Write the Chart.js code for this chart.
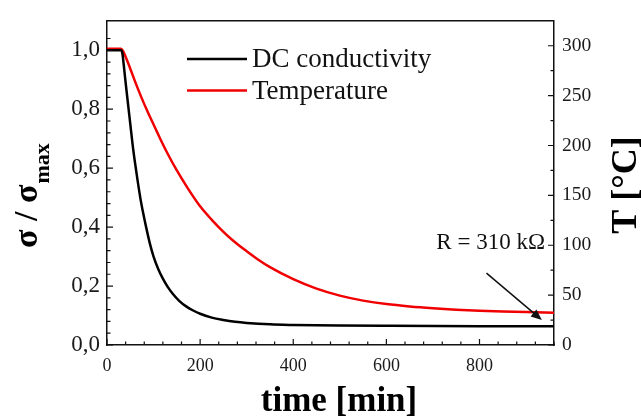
<!DOCTYPE html>
<html>
<head>
<meta charset="utf-8">
<script src="https://cdn.jsdelivr.net/npm/chart.js@4.4.1/dist/chart.umd.min.js"></script>
<style>
  html, body { margin: 0; padding: 0; background: #fff; }
  canvas { display: block; }
</style>
</head>
<body>
<canvas id="chart" width="641" height="417"></canvas>
<script>
// values
const condTime = [0, 20, 30, 33, 36, 40, 45, 50, 55, 60, 66, 72, 78, 84, 92, 100, 110, 120, 130, 142, 155, 170, 185, 200, 225, 250, 275, 300, 350, 400, 500, 600, 800, 960];
const conductivity = [1.0, 1.0, 1.0, 0.99, 0.95, 0.89, 0.82, 0.75, 0.68, 0.62, 0.555, 0.495, 0.445, 0.4, 0.345, 0.3, 0.258, 0.225, 0.198, 0.172, 0.15, 0.131, 0.117, 0.106, 0.093, 0.085, 0.079, 0.075, 0.07, 0.068, 0.066, 0.065, 0.064, 0.064];

const tempTime = [0, 30, 34, 40, 50, 62, 75, 88, 100, 115, 130, 150, 175, 200, 225, 250, 275, 300, 325, 350, 400, 450, 500, 550, 600, 650, 700, 750, 800, 850, 900, 960];
const temperature = [297, 297, 295, 289, 277, 262, 247, 233, 221, 206, 192, 175, 156, 139, 125.5, 113.5, 103, 94, 85.5, 78, 66, 56.5, 49.5, 44.5, 41, 38.6, 36.8, 35.4, 34.4, 33.6, 33, 32.4];

const seriesNames = ['DC conductivity', 'Temperature'];
const noteText = 'R = 310 k\u03A9';
// arrow of the note, in (time, temperature) units
const arrowFrom = [815, 72];
const arrowTo = [934, 25];

const serif = '"Liberation Serif", "DejaVu Serif", serif';
const ink = '#111';

function pts(xs, ys) {
  return xs.map((x, i) => ({ x: x, y: ys[i] }));
}

function majorLabel(step, major) {
  return function (v) {
    const k = Math.round(v / step);
    const m = Math.round(major / step);
    if (k % m !== 0) return '';
    return String(v);
  };
}

const decorations = {
  id: 'decorations',
  afterDraw(chart) {
    const { ctx, chartArea: a, scales } = chart;
    ctx.save();
    ctx.strokeStyle = ink;
    ctx.lineWidth = 1.5;

    // top frame line
    ctx.beginPath();
    ctx.moveTo(a.left, a.top);
    ctx.lineTo(a.right, a.top);
    ctx.stroke();

    // inward tick marks
    ctx.lineWidth = 1.2;
    ctx.beginPath();
    scales.x.ticks.forEach(t => {
      const p = scales.x.getPixelForValue(t.value);
      const len = t.label ? 6 : 3.5;
      ctx.moveTo(p, a.bottom);
      ctx.lineTo(p, a.bottom - len);
    });
    scales.y.ticks.forEach(t => {
      if (t.value > 1.09) return;
      const p = scales.y.getPixelForValue(t.value);
      const len = t.label ? 6 : 3.5;
      ctx.moveTo(a.left, p);
      ctx.lineTo(a.left + len, p);
    });
    scales.y2.ticks.forEach(t => {
      if (t.value > 320) return;
      const p = scales.y2.getPixelForValue(t.value);
      const len = t.label ? 6 : 3.5;
      ctx.moveTo(a.right, p);
      ctx.lineTo(a.right - len, p);
    });
    ctx.stroke();

    // legend
    ctx.textBaseline = 'middle';
    ctx.textAlign = 'left';
    ctx.font = '27px ' + serif;
    chart.data.datasets.forEach((ds, i) => {
      const y = 59 + i * 31.5;
      ctx.strokeStyle = ds.borderColor;
      ctx.lineWidth = 2.5;
      ctx.beginPath();
      ctx.moveTo(187, y);
      ctx.lineTo(247, y);
      ctx.stroke();
      ctx.fillStyle = ink;
      ctx.fillText(ds.label, 252, y + 1);
    });

    // note and arrow
    ctx.font = '23px ' + serif;
    ctx.textAlign = 'right';
    ctx.fillStyle = ink;
    ctx.fillText(noteText, 545, 243);

    const x1 = scales.x.getPixelForValue(arrowFrom[0]);
    const y1 = scales.y2.getPixelForValue(arrowFrom[1]);
    const x2 = scales.x.getPixelForValue(arrowTo[0]);
    const y2 = scales.y2.getPixelForValue(arrowTo[1]);
    const ang = Math.atan2(y2 - y1, x2 - x1);
    ctx.strokeStyle = ink;
    ctx.lineWidth = 1.5;
    ctx.beginPath();
    ctx.moveTo(x1, y1);
    ctx.lineTo(x2 - 6 * Math.cos(ang), y2 - 6 * Math.sin(ang));
    ctx.stroke();
    ctx.beginPath();
    ctx.moveTo(x2, y2);
    ctx.lineTo(x2 - 11 * Math.cos(ang) + 4.5 * Math.sin(ang), y2 - 11 * Math.sin(ang) - 4.5 * Math.cos(ang));
    ctx.lineTo(x2 - 11 * Math.cos(ang) - 4.5 * Math.sin(ang), y2 - 11 * Math.sin(ang) + 4.5 * Math.cos(ang));
    ctx.closePath();
    ctx.fill();

    // axis titles
    ctx.fillStyle = '#000';
    ctx.textAlign = 'center';
    ctx.textBaseline = 'alphabetic';
    ctx.font = 'bold 35px ' + serif;
    ctx.fillText('time [min]', 339, 411);

    ctx.save();
    ctx.translate(636, 185);
    ctx.rotate(-Math.PI / 2);
    ctx.textAlign = 'center';
    ctx.font = 'bold 36px ' + serif;
    ctx.fillText('T [\u00B0C]', 0, 0);
    ctx.restore();

    ctx.save();
    ctx.translate(37, 248);
    ctx.rotate(-Math.PI / 2);
    ctx.textAlign = 'left';
    ctx.font = 'bold 34px ' + serif;
    const main = '\u03C3 / \u03C3';
    ctx.fillText(main, 0, 0);
    const w = ctx.measureText(main).width;
    ctx.font = 'bold 22px ' + serif;
    ctx.fillText('max', w + 1, 12);
    ctx.restore();

    ctx.restore();
  }
};

new Chart(document.getElementById('chart'), {
  type: 'line',
  data: {
    datasets: [
      {
        label: seriesNames[0],
        data: pts(condTime, conductivity),
        yAxisID: 'y',
        borderColor: '#000000',
        borderWidth: 2.5,
        pointRadius: 0,
        cubicInterpolationMode: 'monotone',
        fill: false
      },
      {
        label: seriesNames[1],
        data: pts(tempTime, temperature),
        yAxisID: 'y2',
        borderColor: '#f00000',
        borderWidth: 2.5,
        pointRadius: 0,
        cubicInterpolationMode: 'monotone',
        fill: false
      }
    ]
  },
  options: {
    responsive: false,
    animation: false,
    devicePixelRatio: 1,
    layout: { padding: { top: 16, left: 0, right: 0, bottom: 0 } },
    plugins: { legend: { display: false }, tooltip: { enabled: false } },
    scales: {
      x: {
        type: 'linear',
        min: 0,
        max: 960,
        afterFit(s) { s.height = 72; },
        grid: { display: false, drawTicks: false },
        border: { display: true, color: ink, width: 1.5 },
        ticks: {
          stepSize: 40,
          autoSkip: false,
          maxRotation: 0,
          padding: 10,
          color: '#1a1a1a',
          font: { family: serif, size: 18 },
          callback: majorLabel(40, 200)
        }
      },
      y: {
        position: 'left',
        min: 0,
        max: 1.1,
        afterFit(s) { s.width = 107; },
        grid: { display: false, drawTicks: false },
        border: { display: true, color: ink, width: 1.5 },
        ticks: {
          stepSize: 0.04,
          autoSkip: false,
          padding: 7,
          color: '#1a1a1a',
          font: { family: serif, size: 23 },
          callback: function (v) {
            const k = Math.round(v * 100);
            if (k % 20 !== 0 || v > 1.05) return '';
            return (k / 100).toFixed(1).replace('.', ',');
          }
        }
      },
      y2: {
        position: 'right',
        min: 0,
        max: 325,
        afterFit(s) { s.width = 87; },
        grid: { display: false, drawTicks: false },
        border: { display: true, color: ink, width: 1.5 },
        ticks: {
          stepSize: 25,
          autoSkip: false,
          padding: 8,
          color: '#1a1a1a',
          font: { family: serif, size: 19.5 },
          callback: majorLabel(25, 50)
        }
      }
    }
  },
  plugins: [decorations]
});
</script>
</body>
</html>
